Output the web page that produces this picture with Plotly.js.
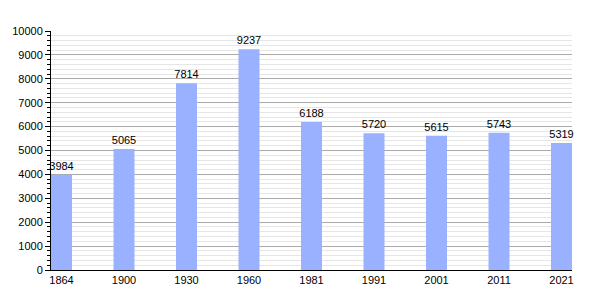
<!DOCTYPE html>
<html>
<head>
<meta charset="utf-8">
<script src="https://cdn.plot.ly/plotly-3.0.1.min.js"></script>
<style>html,body{margin:0;padding:0;background:#fff;}#chart{width:600px;height:300px;}</style>
</head>
<body>
<div id="chart"></div>
<script>
const years = ["1864", "1900", "1930", "1960", "1981", "1991", "2001", "2011", "2021"];
const population = [3984, 5065, 7814, 9237, 6188, 5720, 5615, 5743, 5319];
const yTicks = [0, 1000, 2000, 3000, 4000, 5000, 6000, 7000, 8000, 9000, 10000];

const trace = {
  type: 'bar',
  x: years,
  y: population,
  text: population.map(String),
  textposition: 'outside',
  constraintext: 'none',
  cliponaxis: false,
  textfont: {family: 'Liberation Sans, Arial, sans-serif', size: 11, color: '#000'},
  marker: {color: '#99b1fe', line: {width: 0}},
  width: 0.336,
  hoverinfo: 'none'
};

const layout = {
  width: 600, height: 300,
  margin: {l: 51, r: 28, t: 31, b: 30},
  paper_bgcolor: '#fff', plot_bgcolor: '#fff',
  showlegend: false,
  font: {family: 'Liberation Sans, Arial, sans-serif', size: 11, color: '#000'},
  xaxis: {
    type: 'category',
    range: [-0.168, 8.168],
    showline: true, linecolor: '#000', linewidth: 1,
    ticks: '', showgrid: false, zeroline: false,
    tickfont: {size: 11, color: '#000'}
  },
  yaxis: {
    range: [0, 10000],
    tickvals: yTicks,
    ticktext: yTicks.map(String),
    showline: true, linecolor: '#000', linewidth: 1,
    ticks: 'outside', ticklen: 5, tickcolor: '#000', tickwidth: 1,
    showgrid: true, gridcolor: '#aaaaaa', gridwidth: 1,
    zeroline: false,
    tickfont: {size: 11, color: '#000'},
    minor: {dtick: 200, ticks: 'outside', ticklen: 3, tickcolor: '#000', showgrid: true, gridcolor: '#e6e6e6', gridwidth: 1}
  }
};

Plotly.newPlot('chart', [trace], layout, {staticPlot: true, displayModeBar: false});
</script>
</body>
</html>
